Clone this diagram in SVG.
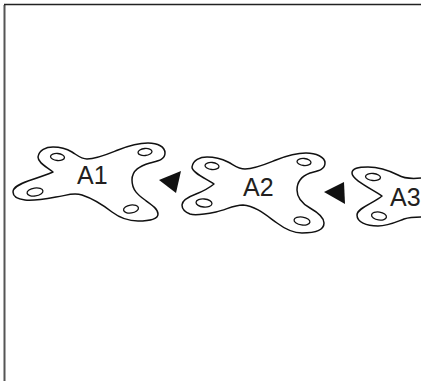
<svg xmlns="http://www.w3.org/2000/svg" width="421" height="381" viewBox="0 0 421 381">
<style>
.o{fill:#fff;stroke:#111;stroke-width:1.5;stroke-linejoin:round}
.h{fill:#fff;stroke:#111;stroke-width:1.3}
.t{font-family:"Liberation Sans",Arial,sans-serif;font-size:25px;fill:#231f20}
.a{fill:#111}
</style>
<rect width="421" height="381" fill="#fff"/>
<path d="M4.500 381V5" fill="none" stroke="#555" stroke-width="2"/>
<path d="M4 4.500H421" fill="none" stroke="#222" stroke-width="1.500"/>
<g id="connectors">
<polygon class="a" points="159,180 181,171 176,193"/>
<polygon class="a" points="324,192 344,182 345,204"/>
</g>
<g id="A1">
<path class="o" d="M38 157C39 150 46 147 53 147C62 147 67 149 72 152C77 155 81 159 87 159C97 159 108 154 118 150C128 146 138 143 148 143C158 143 165 147 165 153C165 160 157 161 150 163C140 166 132 170 132 180C132 190 138 195 145 200C152 205 158 209 158 214C158 220 146 221 138 221C128 221 120 218 112 212C103 205 94 199 82 195C72 192 66 196 56 197C45 199 33 201 25 200C17 199 13 196 13 192C13 187 20 184 28 181C37 178 46 175 53 172C47 167 38 163 38 157Z"/>
<ellipse class="h" cx="57.500" cy="157" rx="7" ry="3.500" transform="rotate(5 57.500 157)"/>
<ellipse class="h" cx="145" cy="152" rx="7" ry="3.500" transform="rotate(-5 145 152)"/>
<ellipse class="h" cx="35" cy="192" rx="8" ry="4" transform="rotate(-8 35 192)"/>
<ellipse class="h" cx="131" cy="209" rx="7.500" ry="4" transform="rotate(-8 131 209)"/>
<text class="t" x="77" y="184">A1</text>
</g>
<g id="A2">
<path class="o" d="M192 167C193 160 200 157 207 157C216 157 222 159 228 162C234 165 238 169 245 169C255 169 266 164 276 160C286 156 296 153 306 153C316 153 325 157 325 163C325 170 317 171 310 173C302 176 297 181 297 190C297 199 303 204 310 208C317 212 324 217 324 223C324 231 312 233 302 233C292 233 285 229 277 223C267 216 256 206 243 205C233 205 226 210 216 212C206 214 196 216 190 214C185 212 182 209 182 205C182 200 188 197 196 194C204 191 209 188 214 184C207 179 192 173 192 167Z"/>
<ellipse class="h" cx="212" cy="166" rx="7" ry="3.500" transform="rotate(5 212 166)"/>
<ellipse class="h" cx="304" cy="162" rx="7" ry="3.500" transform="rotate(5 304 162)"/>
<ellipse class="h" cx="204" cy="203" rx="8" ry="4" transform="rotate(5 204 203)"/>
<ellipse class="h" cx="302" cy="221" rx="8" ry="4" transform="rotate(8 302 221)"/>
<text class="t" x="243" y="196">A2</text>
</g>
<g id="A3">
<path class="o" d="M421 178C412 179 405 179 398 175C390 171 381 167 368 167C358 167 352 168 352 173C352 180 372 189 382 196C374 203 357 208 357 215C357 222 366 226 378 226C388 226 396 222 404 219C410 217 416 217 421 217" fill="none"/>
<ellipse class="h" cx="373" cy="177" rx="7.500" ry="3.500" transform="rotate(5 373 177)"/>
<ellipse class="h" cx="379" cy="216" rx="7.500" ry="4" transform="rotate(8 379 216)"/>
<text class="t" x="390" y="206">A3</text>
</g>
</svg>
